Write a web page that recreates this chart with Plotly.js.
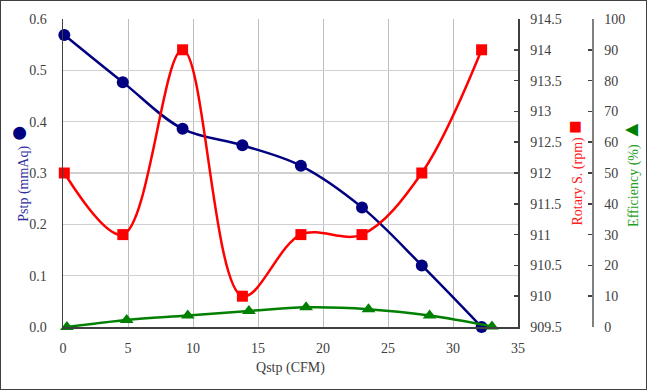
<!DOCTYPE html>
<html>
<head>
<meta charset="utf-8">
<script src="https://cdn.plot.ly/plotly-3.0.1.min.js"></script>
<style>
html,body{margin:0;padding:0;background:#fff;}
#chart{width:645px;height:388px;border:1px solid #404040;}
</style>
</head>
<body>
<div id="chart"></div>
<script>
// Data
var qstp = [0.1, 4.6, 9.2, 13.8, 18.3, 23.0, 27.6, 32.2];
var pstp = [0.569, 0.477, 0.386, 0.354, 0.314, 0.233, 0.120, 0.0];
var rotary = [912, 911, 914, 910, 911, 911, 912, 914];
var qstpEff = [0.3, 4.9, 9.6, 14.3, 18.7, 23.5, 28.2, 33.0];
var efficiency = [0.0, 2.3, 3.7, 5.2, 6.4, 5.8, 3.7, 0.2];
var rotaryTicks = [909.5, 910, 910.5, 911, 911.5, 912, 912.5, 913, 913.5, 914, 914.5];
var rotaryTickText = ["909.5", "910", "910.5", "911", "911.5", "912", "912.5", "913", "913.5", "914", "914.5"];

var SERIF = "Liberation Serif";
function tf() { return {family: SERIF, size: 14, color: "#404040"}; }

var traces = [
  {x: qstp, y: pstp, type: "scatter", mode: "lines+markers", name: "Pstp",
   line: {color: "#000080", width: 2.5, shape: "spline", smoothing: 1},
   marker: {symbol: "circle", size: 12, color: "#000080"},
   cliponaxis: false, yaxis: "y"},
  {x: qstp, y: rotary, type: "scatter", mode: "lines+markers", name: "Rotary S.",
   line: {color: "#ff0000", width: 2.5, shape: "spline", smoothing: 1},
   marker: {symbol: "square", size: 11, color: "#ff0000"},
   cliponaxis: false, yaxis: "y2"},
  {x: qstpEff, y: efficiency, type: "scatter", mode: "lines+markers", name: "Efficiency",
   line: {color: "#008000", width: 2.5, shape: "spline", smoothing: 1},
   marker: {symbol: "triangle-up", size: 12, color: "#008000"},
   cliponaxis: false, yaxis: "y3"}
];

var layout = {
  width: 645, height: 388,
  margin: {l: 62, r: 54, t: 18, b: 62},
  paper_bgcolor: "#ffffff", plot_bgcolor: "#ffffff",
  showlegend: false,
  font: {family: SERIF, size: 14, color: "#404040"},
  xaxis: {
    domain: [0, 455/529], range: [0, 35], dtick: 5, tick0: 0,
    showgrid: true, gridcolor: "#bdbdbd", gridwidth: 1,
    showline: true, linecolor: "#404040", linewidth: 1.5,
    zeroline: false, ticks: "", ticklabelstandoff: 8,
    tickfont: tf(),
    title: {text: "Qstp (CFM)", font: {family: SERIF, size: 14, color: "#404040"}, standoff: 7}
  },
  yaxis: {
    range: [0, 0.6], dtick: 0.1, tick0: 0, tickformat: ".1f",
    showgrid: true, gridcolor: "#d0d0d0", gridwidth: 1.5,
    showline: true, linecolor: "#404040", linewidth: 1.5,
    zeroline: false, ticks: "", ticklabelstandoff: 12,
    tickfont: tf(),
    title: {text: "Pstp (mmAq) <span style='color:#000080;font-size:30px'>●</span>",
            font: {family: SERIF, size: 14, color: "#2e2e9e"}, standoff: 2}
  },
  yaxis2: {
    overlaying: "y", side: "right", anchor: "x",
    range: [909.5, 914.5], tickvals: rotaryTicks, ticktext: rotaryTickText,
    showgrid: false, zeroline: false,
    showline: true, linecolor: "#404040", linewidth: 1.5,
    ticks: "inside", ticklen: 4, tickcolor: "#404040", tickwidth: 1.5,
    ticklabelstandoff: 8, tickfont: tf(),
    title: {text: "Rotary S. (rpm) <span style='color:#ff0000;font-size:22px'>■</span>",
            font: {family: SERIF, size: 14, color: "#ff2020"}, standoff: 4}
  },
  yaxis3: {
    overlaying: "y", side: "right", anchor: "free", position: 1,
    range: [0, 100], dtick: 10, tick0: 0,
    showgrid: false, zeroline: false,
    showline: true, linecolor: "#808080", linewidth: 1.5,
    ticks: "inside", ticklen: 4, tickcolor: "#404040", tickwidth: 1.5,
    ticklabelstandoff: 8, tickfont: tf(),
    title: {text: "Efficiency (%) <span style='color:#008000;font-size:22px'>▲</span>",
            font: {family: SERIF, size: 14, color: "#1e9e1e"}, standoff: 4}
  }
};

Plotly.newPlot("chart", traces, layout, {displayModeBar: false, staticPlot: true});
</script>
</body>
</html>
